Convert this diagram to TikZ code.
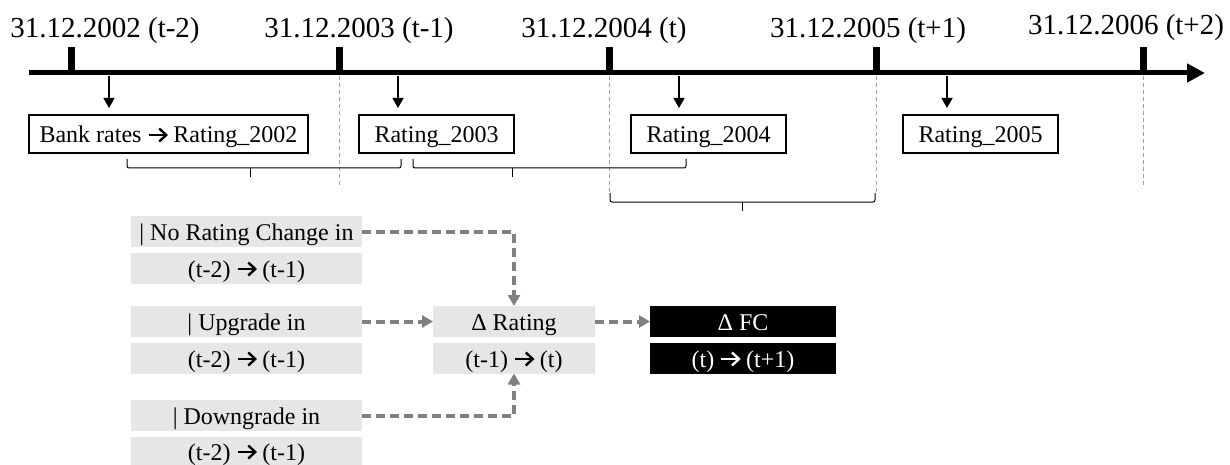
\documentclass[tikz,border=0pt]{standalone}
\usepackage{fontspec}
\setmainfont{Liberation Serif}
\usetikzlibrary{arrows.meta}

\definecolor{linkgray}{HTML}{808080}
\definecolor{cellgray}{HTML}{E6E6E6}
\definecolor{guidegray}{HTML}{A0A0A0}

% bold chevron arrow used inside the texts (black and white versions)
\newsavebox\arrblack
\newsavebox\arrwhite
\sbox\arrblack{\tikz[baseline=-8pt]{%
  \draw[black, line width=2.4pt] (0,0) -- (17pt,0);
  \draw[black, line width=2.4pt, miter limit=10] (10.5pt,6.5pt) -- (17.5pt,0) -- (10.5pt,-6.5pt);}}
\sbox\arrwhite{\tikz[baseline=-8pt]{%
  \draw[white, line width=2.4pt] (0,0) -- (17pt,0);
  \draw[white, line width=2.4pt, miter limit=10] (10.5pt,6.5pt) -- (17.5pt,0) -- (10.5pt,-6.5pt);}}
\newcommand\rarrb{\usebox\arrblack}
\newcommand\rarrw{\usebox\arrwhite}

\begin{document}
\begin{tikzpicture}[x=1pt, y=-1pt,
  datelabel/.style={font=\fontsize{29}{32}\selectfont, anchor=base, inner sep=0pt},
  yearbox/.style={draw, line width=1.8pt, minimum width=155pt, minimum height=38pt,
    inner sep=0pt, outer sep=0pt, font=\fontsize{24}{28}\selectfont,
    text height=20pt, text depth=2pt},
  cell/.style={fill=cellgray, minimum width=231pt, minimum height=31pt,
    inner sep=0pt, outer sep=0pt, font=\fontsize{24}{28}\selectfont,
    text height=20pt, text depth=2pt},
  darkcell/.style={cell, fill=black, text=white, minimum width=186pt},
  guide/.style={draw=guidegray, line width=0.7pt, dash pattern=on 4pt off 3pt},
  pointer/.style={draw=black, line width=1.3pt, -{Triangle[length=10pt,width=11pt]}},
  bracket/.style={draw=black, line width=1pt, rounded corners=2pt},
  link/.style={draw=linkgray, line width=4pt, dash pattern=on 9pt off 5pt,
    -{Triangle[length=11pt,width=12pt]}},
]
\useasboundingbox (0,0) rectangle (1230,465);

% time axis
\coordinate (axisstart) at (29,73);
\coordinate (axisend) at (1205,73);
\draw[line width=5pt, -{Triangle[length=18pt,width=18pt]}] (axisstart) -- (axisend);
\foreach \tx in {71,339,609,876,1143}
  \fill (\tx-3.5,47) rectangle (\tx+3.5,73);

% dates
\node[datelabel] (d2002) at (105,38) {31.12.2002 (t-2)};
\node[datelabel] (d2003) at (359,38) {31.12.2003 (t-1)};
\node[datelabel] (d2004) at (604,38) {31.12.2004 (t)};
\node[datelabel] (d2005) at (868,38) {31.12.2005 (t+1)};
\node[datelabel] (d2006) at (1126,35) {31.12.2006 (t+2)};

% guide lines below the year ends
\draw[guide] (339,76) -- (339,187);
\draw[guide] (609,76) -- (609,193);
\draw[guide] (876,76) -- (876,193);
\draw[guide] (1143,76) -- (1143,187);

% ratings per year
\node[yearbox, minimum width=279pt] (r2002) at (168.5,134) {Bank rates \rarrb{} Rating\_2002};
\node[yearbox] (r2003) at (436.5,134) {Rating\_2003};
\node[yearbox] (r2004) at (708.5,134) {Rating\_2004};
\node[yearbox] (r2005) at (980.5,134) {Rating\_2005};

\foreach \px/\nm in {109/a,398/b,679/c,947/d}{
  \coordinate (p\nm top) at (\px,76);
  \coordinate (p\nm bot) at (\px,108);
  \draw[pointer] (p\nm top) -- (p\nm bot);
}

% brackets grouping the periods
\draw[bracket] (127,159) -- (127,168) -- (401,168) -- (401,159);
\draw[bracket] (250,168) -- (250,177);
\draw[bracket] (413,159) -- (413,168) -- (686,168) -- (686,159);
\draw[bracket] (512,168) -- (512,177);
\draw[bracket] (610,193) -- (610,202) -- (875,202) -- (875,193);
\draw[bracket] (742,202) -- (742,211);

% conditions
\node[cell] (nr1) at (246.5,231.5) {| No Rating Change in};
\node[cell] (nr2) at (246.5,268) {(t-2) \rarrb{} (t-1)};
\node[cell] (up1) at (246.5,321.5) {| Upgrade in};
\node[cell] (up2) at (246.5,358) {(t-2) \rarrb{} (t-1)};
\node[cell] (dn1) at (246.5,415.5) {| Downgrade in};
\node[cell, minimum height=29pt] (dn2) at (246.5,451) {(t-2) \rarrb{} (t-1)};

% rating change and forecast change
\node[cell, minimum width=162pt] (dr1) at (514,321.5) {Δ Rating};
\node[cell, minimum width=162pt] (dr2) at (514,358) {(t-1) \rarrb{} (t)};
\node[darkcell] (fc1) at (743,321.5) {Δ FC};
\node[darkcell] (fc2) at (743,358) {(t) \rarrw{} (t+1)};

% dashed links
\draw[link] (nr1.east) -| (dr1.north);
\draw[link] (up1.east) -- (dr1.west);
\draw[link] (dn1.east) -| (dr2.south);
\draw[link] (dr1.east) -- (fc1.west);
\end{tikzpicture}
\end{document}
